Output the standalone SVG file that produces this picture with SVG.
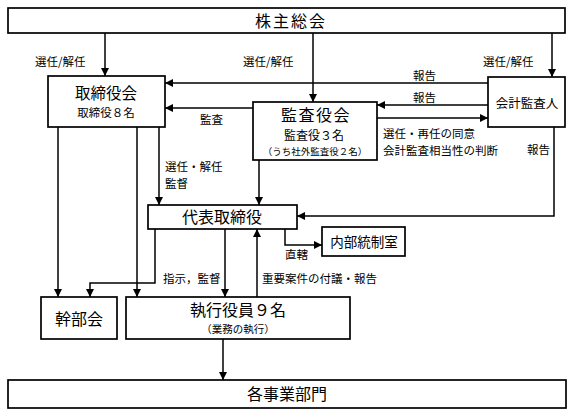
<svg xmlns="http://www.w3.org/2000/svg" width="582" height="417" viewBox="0 0 582 417">
<style>
.box{fill:#fff;stroke:#000;stroke-width:1.7}
.ln{fill:none;stroke:#000;stroke-width:1.5}
.t{font-family:"Noto Sans CJK JP","Noto Sans CJK SC",sans-serif;fill:#000;text-anchor:middle}
.lab{font-family:"Noto Sans CJK JP","Noto Sans CJK SC",sans-serif;fill:#000;font-size:11.5px}
</style>
<defs>
<marker id="ah" viewBox="0 0 10 10" refX="10" refY="5" markerWidth="8" markerHeight="8" markerUnits="userSpaceOnUse" orient="auto">
<path d="M0,0 L10,5 L0,10 Z" fill="#000"/>
</marker>
</defs>
<rect width="582" height="417" fill="#fff"/>
<g id="connectors">
<path class="ln" d="M105,33 V76" marker-end="url(#ah)"/>
<path class="ln" d="M313,33 V102" marker-end="url(#ah)"/>
<path class="ln" d="M552,33 V77" marker-end="url(#ah)"/>
<path class="ln" d="M488,83 H165" marker-end="url(#ah)"/>
<path class="ln" d="M488,105 H377" marker-end="url(#ah)"/>
<path class="ln" d="M377,118 H488" marker-end="url(#ah)"/>
<path class="ln" d="M253,108 H165" marker-end="url(#ah)"/>
<path class="ln" d="M554,127 V216 H297" marker-end="url(#ah)"/>
<path class="ln" d="M58,127 V297" marker-end="url(#ah)"/>
<path class="ln" d="M137,127 V297" marker-end="url(#ah)"/>
<path class="ln" d="M159,127 V205" marker-end="url(#ah)"/>
<path class="ln" d="M259,160 V205" marker-end="url(#ah)"/>
<path class="ln" d="M155,229 V283 H90 V297" marker-end="url(#ah)"/>
<path class="ln" d="M225,229 V297" marker-end="url(#ah)"/>
<path class="ln" d="M257,297 V229" marker-end="url(#ah)"/>
<path class="ln" d="M285,229 V245 H322" marker-end="url(#ah)"/>
<path class="ln" d="M223,339 V380" marker-end="url(#ah)"/>
</g>
<g id="labels">
<text class="lab" x="35" y="65.5" font-size="12">選任/解任</text>
<text class="lab" x="243" y="65.5" font-size="12">選任/解任</text>
<text class="lab" x="483" y="65.5" font-size="12">選任/解任</text>
<text class="lab" x="413" y="79.5" font-size="12">報告</text>
<text class="lab" x="413" y="101.5" font-size="12">報告</text>
<text class="lab" x="200" y="123.5" font-size="12">監査</text>
<text class="lab" x="383" y="138.4">選任・再任の同意</text>
<text class="lab" x="383" y="155.3">会計監査相当性の判断</text>
<text class="lab" x="527" y="153.5" font-size="12">報告</text>
<text class="lab" x="165" y="171.4">選任・解任</text>
<text class="lab" x="165" y="188.4">監督</text>
<text class="lab" x="163" y="282.6">指示，監督</text>
<text class="lab" x="262" y="282.6" font-size="12">重要案件の付議・報告</text>
<text class="lab" x="285" y="258.5" font-size="10.5">直轄</text>
</g>
<g id="shareholders">
<rect class="box" x="8" y="8" width="557" height="25"/>
<text class="t" x="291" y="26.6" font-size="16" letter-spacing="2">株主総会</text>
</g>
<g id="board">
<rect class="box" x="48" y="76" width="117" height="51"/>
<text class="t" x="106" y="98.9" font-size="15.5">取締役会</text>
<text class="t" x="106" y="116.7" font-size="11.5">取締役８名</text>
</g>
<g id="auditors">
<rect class="box" x="253" y="102" width="124" height="58"/>
<text class="t" x="316" y="121.4" font-size="16" letter-spacing="1.5">監査役会</text>
<text class="t" x="314" y="139.9" font-size="12">監査役３名</text>
<text class="t" x="315" y="154.6" font-size="9.5">（うち社外監査役２名）</text>
</g>
<g id="accountant">
<rect class="box" x="488" y="77" width="77" height="50"/>
<text class="t" x="527" y="107.7" font-size="12.5">会計監査人</text>
</g>
<g id="representative">
<rect class="box" x="148" y="205" width="149" height="24"/>
<text class="t" x="222" y="223.1" font-size="16">代表取締役</text>
</g>
<g id="internal-control">
<rect class="box" x="322" y="227" width="83" height="29"/>
<text class="t" x="364" y="247" font-size="13.5">内部統制室</text>
</g>
<g id="executive-committee">
<rect class="box" x="41" y="297" width="76" height="42"/>
<text class="t" x="79" y="325" font-size="16">幹部会</text>
</g>
<g id="officers">
<rect class="box" x="126" y="297" width="224" height="42"/>
<text class="t" x="238" y="316.1" font-size="16">執行役員９名</text>
<text class="t" x="238" y="333" font-size="10.5">（業務の執行）</text>
</g>
<g id="divisions">
<rect class="box" x="8" y="380" width="558" height="28"/>
<text class="t" x="287" y="400" font-size="16">各事業部門</text>
</g>
</svg>
